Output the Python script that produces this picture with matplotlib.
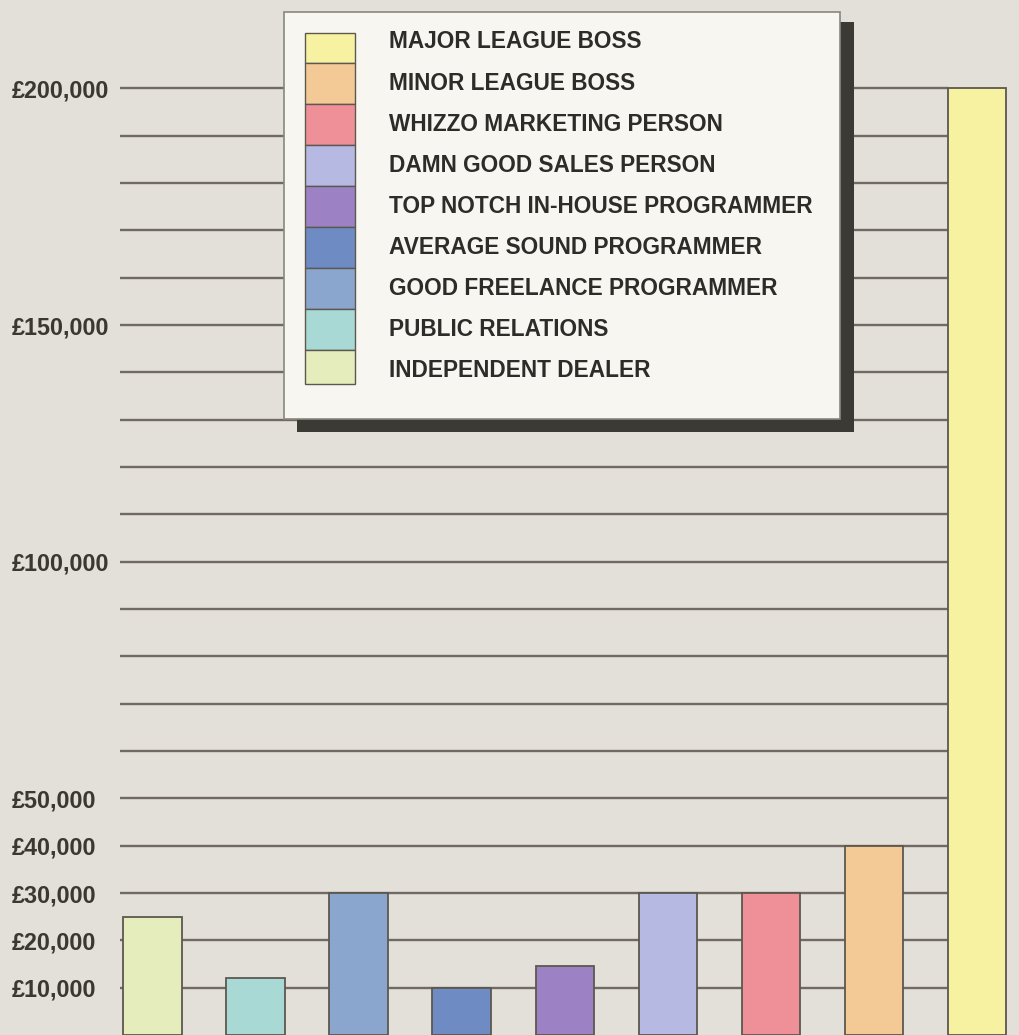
import matplotlib.pyplot as plt
from matplotlib.patches import Rectangle

categories = ['INDEPENDENT DEALER', 'PUBLIC RELATIONS', 'GOOD FREELANCE PROGRAMMER',
              'AVERAGE SOUND PROGRAMMER', 'TOP NOTCH IN-HOUSE PROGRAMMER',
              'DAMN GOOD SALES PERSON', 'WHIZZO MARKETING PERSON',
              'MINOR LEAGUE BOSS', 'MAJOR LEAGUE BOSS']
salaries = [25000, 12000, 30000, 10000, 14500, 30000, 30000, 40000, 200000]
colors = ['#e6edbc', '#a9d9d5', '#8aa6cf', '#6f8bc4', '#9c82c4',
          '#b6b9e2', '#ef9099', '#f3c996', '#f6f2a2']
grid_levels = list(range(10000, 210000, 10000))
tick_values = [10000, 20000, 30000, 40000, 50000, 100000, 150000, 200000]
tick_labels = ['£10,000', '£20,000', '£30,000', '£40,000', '£50,000',
               '£100,000', '£150,000', '£200,000']

bg = '#e3dfd9'
fam = ['Liberation Sans', 'DejaVu Sans']

W, H = 1020, 1035
fig = plt.figure(figsize=(W / 100, H / 100), dpi=100, facecolor=bg)
ax = fig.add_axes([120 / W, 0, 900 / W, 1])
ax.set_facecolor(bg)

x = list(range(len(categories)))
bar_w = 0.565
ax.set_xlim(-0.3155, 8.42)
ax.set_ylim(0, 218700)

# grid lines stop at the big bar
ax.hlines(grid_levels, -0.3155, x[-1] - bar_w / 2, color='#6f6b64', lw=1.7, zorder=1)

ax.bar(x, salaries, width=bar_w, color=colors, edgecolor='#5c584f', linewidth=1.3, zorder=2)

# labels are left-aligned in the original
ax.set_yticks(tick_values)
ax.set_yticklabels(tick_labels, family=fam, fontweight='bold', fontsize=16.8,
                   color='#3a3833', ha='left')
ax.tick_params(axis='y', length=0, pad=77.8)
ax.set_xticks([])
for s in ax.spines.values():
    s.set_visible(False)


# legend box drawn by hand (pixel layout, top-left origin)
def fx(px):
    return px / W


def fy(py):
    return 1 - py / H


fig.patches.append(Rectangle((fx(297), fy(432)), fx(854) - fx(297), fy(22) - fy(432),
                             transform=fig.transFigure, facecolor='#3b3a35', edgecolor='none', zorder=5))
fig.patches.append(Rectangle((fx(284), fy(419)), fx(840) - fx(284), fy(12) - fy(419),
                             transform=fig.transFigure, facecolor='#f8f6f0', edgecolor='#8a8780',
                             linewidth=1.2, zorder=6))

rows = [42 + 41.1 * i for i in range(len(categories))]
legend_items = list(zip(categories, colors))[::-1]
for i, (label, c) in enumerate(legend_items):
    top = 33 if i == 0 else (rows[i - 1] + rows[i]) / 2
    bot = 384 if i == len(rows) - 1 else (rows[i] + rows[i + 1]) / 2
    fig.patches.append(Rectangle((fx(305), fy(bot)), fx(355) - fx(305), fy(top) - fy(bot),
                                 transform=fig.transFigure, facecolor=c, edgecolor='#5c584f',
                                 linewidth=1.0, zorder=7))
    fig.text(fx(389), fy(rows[i]), label, family=fam, fontweight='bold', fontsize=16.3,
             color='#2e2c29', va='center', ha='left', zorder=8)

plt.savefig('out.png', dpi=100, facecolor=bg)
